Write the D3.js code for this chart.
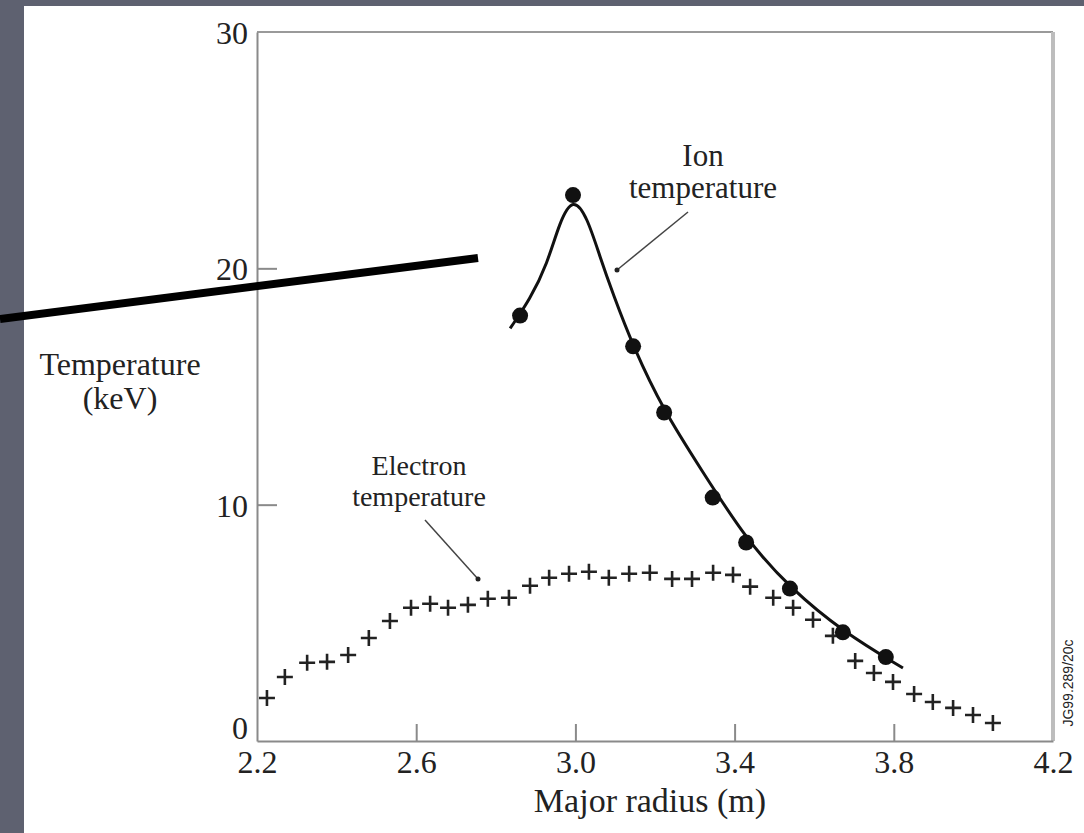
<!DOCTYPE html>
<html>
<head>
<meta charset="utf-8">
<script src="https://cdn.jsdelivr.net/npm/d3@7"></script>
<style>
  html, body { margin: 0; padding: 0; background: #5e6170; }
  svg { display: block; }
  text { font-family: "Liberation Serif", "Times New Roman", serif; fill: #222; }
</style>
</head>
<body>
<svg id="chart" width="1084" height="833"></svg>
<script>
// ---- data ----
const xTicks = [2.2, 2.6, 3.0, 3.4, 3.8, 4.2];
const xTickLabels = ["2.2", "2.6", "3.0", "3.4", "3.8", "4.2"];
const yTicks = [0, 10, 20, 30];
const yTickLabels = ["0", "10", "20", "30"];

// Ion temperature measured points (radius m, keV)
const ionR = [2.861, 2.994, 3.145, 3.223, 3.345, 3.429, 3.539, 3.672, 3.780];
const ionT = [18.0, 23.1, 16.7, 13.9, 10.3, 8.4, 6.45, 4.6, 3.55];

// Ion temperature fitted curve (traced)
const ionFitR = [2.836, 2.886, 2.929, 2.961, 2.994, 3.029, 3.062, 3.094, 3.145, 3.223, 3.313, 3.429, 3.539, 3.672, 3.823];
const ionFitT = [17.46, 18.69, 20.17, 22.0, 23.0, 22.2, 20.47, 18.94, 16.69, 13.94, 11.57, 8.52, 6.48, 4.62, 3.09];

// Electron temperature points
const eR = [2.225, 2.270, 2.326, 2.376, 2.429, 2.481, 2.534, 2.587, 2.635, 2.680, 2.730, 2.780, 2.833,
            2.886, 2.934, 2.984, 3.034, 3.084, 3.135, 3.187, 3.243, 3.293, 3.346, 3.396, 3.439, 3.497,
            3.547, 3.597, 3.647, 3.703, 3.750, 3.798, 3.851, 3.898, 3.949, 3.999, 4.049];
const eT = [1.82, 2.71, 3.31, 3.35, 3.64, 4.36, 5.08, 5.64, 5.81, 5.64, 5.76, 6.02, 6.06,
            6.57, 6.91, 7.08, 7.16, 6.91, 7.08, 7.12, 6.86, 6.86, 7.12, 7.03, 6.53, 6.06,
            5.64, 5.13, 4.45, 3.39, 2.88, 2.50, 1.99, 1.65, 1.40, 1.10, 0.76];

const xTitle = "Major radius (m)";
const yTitleLines = ["Temperature", "(keV)"];
const ionLabel = ["Ion", "temperature"];
const eLabel = ["Electron", "temperature"];
const codeLabel = "JG99.289/20c";

// ---- layout ----
const svg = d3.select("#chart");
const L = 257, R = 1053, T = 32, B = 741;
const x = d3.scaleLinear().domain([2.2, 4.2]).range([L, R]);
const y = d3.scaleLinear().domain([0, 30]).range([B, T]);

// white panel
svg.append("rect").attr("x", 24).attr("y", 6).attr("width", 1084 - 24).attr("height", 833 - 6).attr("fill", "#ffffff");

// frame
svg.append("line").attr("x1", L).attr("x2", R).attr("y1", T).attr("y2", T).attr("stroke", "#9a9a9a").attr("stroke-width", 2);
svg.append("line").attr("x1", R).attr("x2", R).attr("y1", T).attr("y2", B).attr("stroke", "#bdbdbd").attr("stroke-width", 4);

// axes
const fmtX = (d, i) => xTickLabels[i];
const fmtY = (d, i) => yTickLabels[i];
const gx = svg.append("g").attr("transform", `translate(0,${B})`)
  .call(d3.axisBottom(x).tickValues(xTicks).tickFormat(fmtX).tickSizeInner(-17).tickSizeOuter(0).tickPadding(9));
const gy = svg.append("g").attr("transform", `translate(${L},0)`)
  .call(d3.axisLeft(y).tickValues(yTicks).tickFormat(fmtY).tickSizeInner(-20).tickSizeOuter(0).tickPadding(9));
[gx, gy].forEach(g => {
  g.select(".domain").attr("stroke", "#8a8a8a").attr("stroke-width", 2);
  g.selectAll(".tick line").attr("stroke", "#8a8a8a").attr("stroke-width", 2);
  g.selectAll(".tick text").attr("font-family", "Liberation Serif, Times New Roman, serif")
    .attr("font-size", 32).attr("fill", "#222");
});
// hide ticks that coincide with frame
gx.selectAll(".tick line").filter(d => d === 2.2 || d === 4.2).remove();
gy.selectAll(".tick line").filter(d => d === 0 || d === 30).remove();
gy.selectAll(".tick text").attr("dy", "0.36em");
gy.selectAll(".tick text").filter(d => d === 0).attr("dy", "-0.08em");

// axis titles
svg.append("text").attr("x", 650).attr("y", 812).attr("text-anchor", "middle").attr("font-size", 34).text(xTitle);
svg.append("g").selectAll("text").data(yTitleLines).join("text")
  .attr("x", 120).attr("y", (d, i) => 375 + i * 34).attr("text-anchor", "middle").attr("font-size", 32).text(d => d);

// electron crosses
const eData = eR.map((r, i) => ({ r, t: eT[i] }));
const h = 8;
svg.append("g").selectAll("path").data(eData).join("path")
  .attr("d", d => {
    const cx = x(d.r), cy = y(d.t);
    return `M${cx - h},${cy}H${cx + h}M${cx},${cy - h}V${cy + h}`;
  })
  .attr("stroke", "#222").attr("stroke-width", 2.6).attr("fill", "none");

// ion fitted curve
const fit = ionFitR.map((r, i) => ({ r, t: ionFitT[i] }));
svg.append("path").datum(fit)
  .attr("d", d3.line().x(d => x(d.r)).y(d => y(d.t)).curve(d3.curveBasis))
  .attr("fill", "none").attr("stroke", "#111").attr("stroke-width", 3);

// ion points
const ionData = ionR.map((r, i) => ({ r, t: ionT[i] }));
svg.append("g").selectAll("circle").data(ionData).join("circle")
  .attr("cx", d => x(d.r)).attr("cy", d => y(d.t)).attr("r", 8).attr("fill", "#111");

// annotations
svg.append("g").selectAll("text").data(ionLabel).join("text")
  .attr("x", 703).attr("y", (d, i) => 166 + i * 32).attr("text-anchor", "middle").attr("font-size", 31).text(d => d);
svg.append("line").attr("x1", 688).attr("y1", 212).attr("x2", 617).attr("y2", 270).attr("stroke", "#444").attr("stroke-width", 1.5);
svg.append("circle").attr("cx", 617).attr("cy", 270).attr("r", 2.5).attr("fill", "#222");

svg.append("g").selectAll("text").data(eLabel).join("text")
  .attr("x", 419).attr("y", (d, i) => 475 + i * 31).attr("text-anchor", "middle").attr("font-size", 28).text(d => d);
svg.append("line").attr("x1", 425).attr("y1", 520).attr("x2", 478).attr("y2", 579).attr("stroke", "#444").attr("stroke-width", 1.5);
svg.append("circle").attr("cx", 478).attr("cy", 579).attr("r", 2.5).attr("fill", "#222");

// code label
svg.append("text").attr("transform", "translate(1073,683) rotate(-90)").attr("text-anchor", "middle")
  .attr("font-size", 14).attr("fill", "#555")
  .style("font-family", "Liberation Sans, Arial, sans-serif").text(codeLabel);

// overlay thick black line (slide annotation)
svg.append("line").attr("x1", 0).attr("y1", 319).attr("x2", 478).attr("y2", 258)
  .attr("stroke", "#000").attr("stroke-width", 8);
</script>
</body>
</html>
